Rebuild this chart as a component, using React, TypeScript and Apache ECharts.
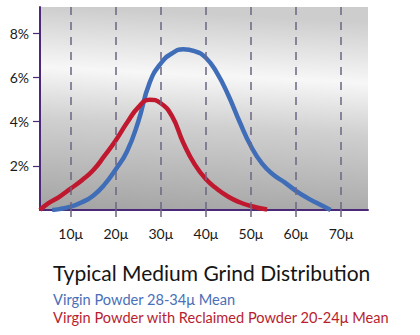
import React, { useEffect, useRef } from "react";
import * as echarts from "echarts";

const xTicks = [10, 20, 30, 40, 50, 60, 70];
const yTicks = [2, 4, 6, 8];

const virginX = [5.9, 7.5, 10, 12.5, 15, 17.5, 20, 22.5, 25, 27.5, 30, 32.5, 35, 37.5, 40, 42.5, 45, 47.5, 50, 52.5, 55, 57.5, 60, 62.5, 65, 67.7];
const virginY = [0, 0.04, 0.15, 0.35, 0.65, 1.15, 1.84, 2.65, 4.0, 5.75, 6.64, 7.1, 7.28, 7.2, 6.9, 6.2, 5.2, 4.0, 2.9, 2.1, 1.6, 1.25, 0.87, 0.55, 0.28, 0];

const reclaimedX = [3.2, 5, 7.5, 10, 12.5, 15, 17.5, 20, 22.5, 25, 27.5, 30, 32.5, 35, 37.5, 40, 42.5, 45, 47.5, 50, 53.6];
const reclaimedY = [0, 0.3, 0.6, 0.97, 1.35, 1.8, 2.45, 3.15, 3.95, 4.65, 5.0, 4.84, 4.25, 3.05, 2.08, 1.4, 0.95, 0.6, 0.35, 0.18, 0.02];

const titleText = "Typical Medium Grind Distribution";
const legend1 = "Virgin Powder 28-34\u03bc Mean";
const legend2 = "Virgin Powder with Reclaimed Powder 20-24\u03bc Mean";

const FONT = "Lato, 'Open Sans', sans-serif";
const AXIS = "#4a2a78";
const DASH = "#6c6582";
const BLUE = "#3f6db8";
const RED = "#c0182e";

export default function App() {
  const ref = useRef<HTMLDivElement>(null);
  useEffect(() => {
    if (!ref.current) return;
    const chart = echarts.init(ref.current, undefined, { renderer: "svg" });
    const zip = (xs: number[], ys: number[]) => xs.map((x, i) => [x, ys[i]]);
    chart.setOption({
      animation: false,
      title: [
        { text: titleText, left: 53, top: 262, padding: 0, textStyle: { fontFamily: FONT, fontSize: 21, fontWeight: "normal", color: "#151515" } },
        { text: legend1, left: 53, top: 292, padding: 0, textStyle: { fontFamily: FONT, fontSize: 14.6, lineHeight: 15, fontWeight: "normal", color: "#4a70b8" } },
        { text: legend2, left: 53, top: 309.5, padding: 0, textStyle: { fontFamily: FONT, fontSize: 14.6, lineHeight: 15, fontWeight: "normal", color: "#b81e30" } },
      ],
      grid: {
        left: 40, top: 7, right: 52, bottom: 125, show: true, borderWidth: 0,
        backgroundColor: new echarts.graphic.LinearGradient(0.08, 0, 0, 1, [
          { offset: 0, color: "#cdcdcd" },
          { offset: 0.3, color: "#f7f7f7" },
          { offset: 0.55, color: "#d0d0d0" },
          { offset: 1, color: "#a3a3a3" },
        ]),
      },
      xAxis: {
        type: "value", min: 3.2, max: 76,
        axisLine: { show: true, lineStyle: { color: AXIS, width: 2 } },
        axisTick: { show: true, customValues: xTicks, length: 7, lineStyle: { color: DASH, width: 1.5 } },
        axisLabel: { customValues: xTicks, formatter: (v: number) => `${v}\u03bc`, margin: 16, fontFamily: FONT, fontSize: 14, color: "#1a1a1a" },
        splitLine: { show: false },
      },
      yAxis: {
        type: "value", min: 0, max: 9.2,
        axisLine: { show: true, lineStyle: { color: AXIS, width: 2 } },
        axisTick: { show: true, customValues: yTicks, length: 7, lineStyle: { color: AXIS, width: 1.2 } },
        axisLabel: { customValues: yTicks, formatter: (v: number) => `${v}%`, margin: 11, fontFamily: FONT, fontSize: 14, color: "#1a1a1a" },
        splitLine: { show: false },
      },
      series: [
        {
          type: "line", data: zip(virginX, virginY), smooth: true, showSymbol: false, symbol: "none",
          lineStyle: { color: BLUE, width: 4.5 }, z: 3,
          markLine: {
            silent: true, symbol: ["none", "none"], label: { show: false },
            lineStyle: { color: DASH, type: [8, 7], width: 1.5 },
            data: xTicks.map((v) => ({ xAxis: v })),
          },
        },
        {
          type: "line", data: zip(reclaimedX, reclaimedY), smooth: true, showSymbol: false, symbol: "none",
          lineStyle: { color: RED, width: 4.5 }, z: 4,
        },
      ],
    });
    return () => chart.dispose();
  }, []);
  return <div ref={ref} style={{ position: "fixed", left: 0, top: 0, width: 420, height: 335, background: "#fff" }} />;
}
